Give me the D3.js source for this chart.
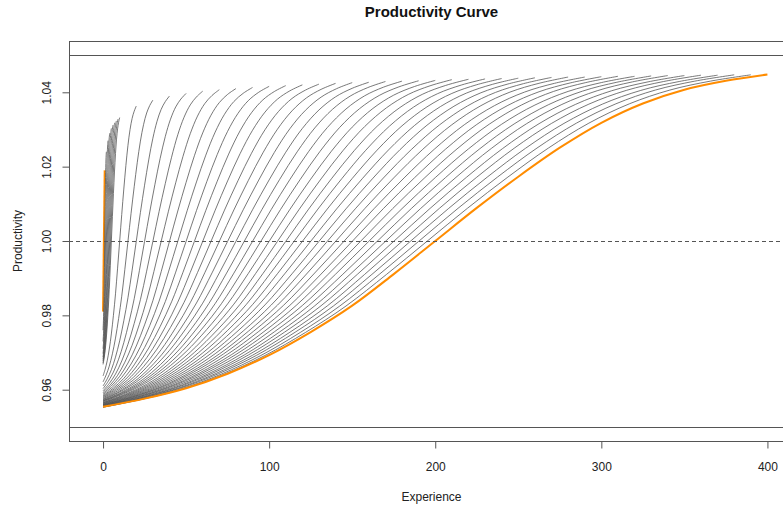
<!DOCTYPE html>
<html>
<head>
    <meta charset="utf-8">
    <title>Productivity Curve</title>
    <style>
        body { margin: 0; background: #fff; }
        svg { display: block; font-family: "Liberation Sans", Arial, sans-serif; }
        .tick text { fill: #222; font-size: 12px; }
    </style>
    <script src="https://d3js.org/d3.v7.min.js"></script>
</head>
<body>
<script>
  // long orange curve (experience, productivity)
  var orangeX = [0, 25, 50, 75, 100, 125, 150, 175, 200, 225, 250, 275, 300, 325, 350, 375, 400];
  var orangeY = [0.9554, 0.9576, 0.9604, 0.9643, 0.9693, 0.9755, 0.9826, 0.9911, 1.0000,
                 1.0089, 1.0173, 1.0251, 1.0318, 1.0370, 1.0407, 1.0431, 1.0448];

  // short orange curve near zero
  var shortX = [0, 1];
  var shortY = [0.981, 1.019];

  // black curves: length, start value, end value
  var curveLen = [2, 3, 4, 5, 6, 7, 8, 9,
                  10, 20, 30, 40, 50, 60, 70, 80, 90, 100, 110, 120, 130, 140, 150, 160, 170, 180, 190,
                  200, 210, 220, 230, 240, 250, 260, 270, 280, 290, 300, 310, 320, 330, 340, 350, 360, 370, 380, 390];
  var curveLo = [0.9760, 0.9730, 0.9710, 0.9697, 0.9688, 0.9682, 0.9677, 0.9672,
                 0.9668, 0.9637, 0.9621, 0.9610, 0.9603, 0.9597, 0.9593, 0.9590, 0.9587, 0.9584, 0.9582, 0.9580,
                 0.9578, 0.9576, 0.9574, 0.9573, 0.9571, 0.9570, 0.9569,
                 0.9568, 0.9566, 0.9565, 0.9564, 0.9563, 0.9562, 0.9561, 0.9560, 0.9559, 0.9559, 0.9558,
                 0.9557, 0.9557, 0.9556, 0.9555, 0.9555, 0.9554, 0.9554, 0.9553, 0.9553];
  var curveHi = [1.0240, 1.0270, 1.0290, 1.0303, 1.0312, 1.0318, 1.0323, 1.0328,
                 1.0332, 1.0363, 1.0379, 1.0390, 1.0397, 1.0403, 1.0407, 1.0410, 1.0413, 1.0416, 1.0418, 1.0420,
                 1.0422, 1.0424, 1.0426, 1.0427, 1.0429, 1.0430, 1.0431,
                 1.0432, 1.0434, 1.0435, 1.0436, 1.0437, 1.0438, 1.0439, 1.0440, 1.0441, 1.0441, 1.0442,
                 1.0443, 1.0443, 1.0444, 1.0445, 1.0445, 1.0446, 1.0446, 1.0447, 1.0447];

  var xTicks = [0, 100, 200, 300, 400];
  var yTicks = [0.96, 0.98, 1.00, 1.02, 1.04];
  var refLines = [0.95, 1.05];
  var midLine = 1.00;

  var w = 783, h = 508;
  var box = {left: 69, right: 794, top: 41, bottom: 441};

  var x = d3.scaleLinear().domain([-20.5, 416]).range([box.left, box.right]);
  var y = d3.scaleLinear().domain([0.9462, 1.0538]).range([box.bottom, box.top]);

  var svg = d3.select("body").append("svg")
              .attr("width", w)
              .attr("height", h);

  var plot = svg.append("g");

  var line = d3.line()
               .x(function (d) { return x(d[0]); })
               .y(function (d) { return y(d[1]); })
               .curve(d3.curveCatmullRom.alpha(0.5));

  // each black curve follows the orange shape, squeezed to its own length and range
  var oLo = orangeY[0], oHi = orangeY[orangeY.length - 1];
  var curves = curveLen.map(function (n, i) {
    return orangeX.map(function (ox, j) {
      var f = (orangeY[j] - oLo) / (oHi - oLo);
      return [ox * n / 400, curveLo[i] + f * (curveHi[i] - curveLo[i])];
    });
  });

  plot.append("path")
      .datum(shortX.map(function (v, i) { return [v, shortY[i]]; }))
      .attr("d", line)
      .attr("fill", "none")
      .attr("stroke", "#ff8c00")
      .attr("stroke-width", 2);

  plot.selectAll(".curve")
      .data(curves)
      .enter()
      .append("path")
      .attr("class", "curve")
      .attr("d", line)
      .attr("fill", "none")
      .attr("stroke", "#555")
      .attr("stroke-width", 0.8);

  plot.append("path")
      .datum(orangeX.map(function (v, i) { return [v, orangeY[i]]; }))
      .attr("d", line)
      .attr("fill", "none")
      .attr("stroke", "#ff8c00")
      .attr("stroke-width", 2);

  // reference lines
  plot.selectAll(".ref")
      .data(refLines)
      .enter()
      .append("line")
      .attr("x1", box.left).attr("x2", box.right)
      .attr("y1", function (d) { return Math.round(y(d)) + 0.5; })
      .attr("y2", function (d) { return Math.round(y(d)) + 0.5; })
      .attr("stroke", "#555");

  plot.append("line")
      .attr("x1", box.left).attr("x2", box.right)
      .attr("y1", Math.round(y(midLine)) + 0.5)
      .attr("y2", Math.round(y(midLine)) + 0.5)
      .attr("stroke", "#555")
      .attr("stroke-dasharray", "4,3");

  // frame
  svg.append("rect")
     .attr("x", box.left + 0.5)
     .attr("y", box.top + 0.5)
     .attr("width", box.right - box.left)
     .attr("height", box.bottom - box.top)
     .attr("fill", "none")
     .attr("stroke", "#555");

  // axes
  var xAxis = svg.append("g")
                 .attr("transform", "translate(0," + (box.bottom + 0.5) + ")")
                 .call(d3.axisBottom(x).tickValues(xTicks).tickSize(7).tickPadding(14));
  xAxis.select(".domain").remove();
  xAxis.selectAll(".tick line").attr("stroke", "#555");
  xAxis.selectAll(".tick text").attr("font-family", null);

  var yAxis = svg.append("g")
                 .attr("transform", "translate(" + (box.left + 0.5) + ",0)")
                 .call(d3.axisLeft(y).tickValues(yTicks).tickSize(7).tickFormat(d3.format(".2f")));
  yAxis.select(".domain").remove();
  yAxis.selectAll(".tick line").attr("stroke", "#555");
  yAxis.selectAll(".tick text")
       .attr("x", 0)
       .attr("dy", null)
       .attr("text-anchor", "middle")
       .attr("transform", "translate(-19,0) rotate(-90)");

  // titles
  svg.append("text")
     .attr("x", (box.left + box.right) / 2)
     .attr("y", 16.5)
     .attr("text-anchor", "middle")
     .attr("font-weight", "bold")
     .attr("font-size", "15px")
     .attr("fill", "#111")
     .text("Productivity Curve");

  svg.append("text")
     .attr("x", (box.left + box.right) / 2)
     .attr("y", 501)
     .attr("text-anchor", "middle")
     .attr("font-size", "12px")
     .attr("fill", "#222")
     .text("Experience");

  svg.append("text")
     .attr("transform", "translate(22," + ((box.top + box.bottom) / 2) + ") rotate(-90)")
     .attr("text-anchor", "middle")
     .attr("font-size", "12px")
     .attr("fill", "#222")
     .text("Productivity");
</script>
</body>
</html>
